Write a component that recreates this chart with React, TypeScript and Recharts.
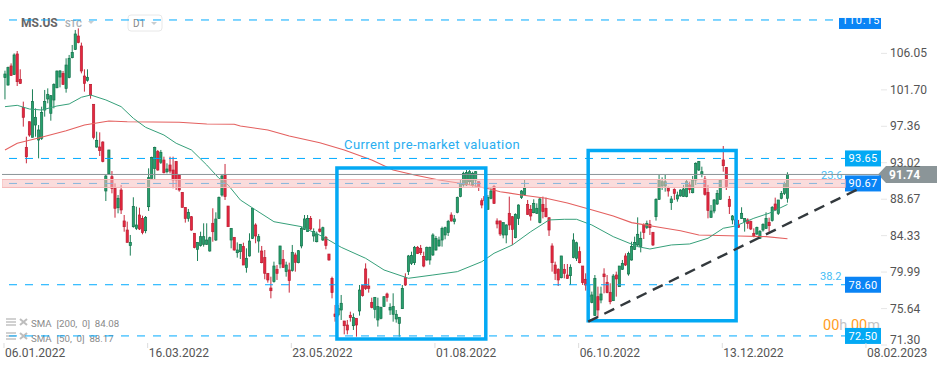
import { ComposedChart, Bar, Line, XAxis, YAxis, ReferenceLine, ReferenceArea, Customized } from 'recharts';

const open = [
  103.28, 102.40, 104.67, 103.67, 106.10, 103.08, 99.74, 94.97, 98.03, 96.17,
  97.63, 95.85, 96.05, 99.42, 100.73, 99.03, 100.61, 102.08, 103.35, 103.79,
  102.00, 103.28, 105.66, 106.65, 108.24, 107.05, 103.47, 102.96, 102.48, 100.10,
  95.01, 95.01, 95.61, 89.77, 91.80, 91.48, 90.09, 87.78, 89.89, 86.20,
  85.12, 83.26, 85.52, 85.32, 86.91, 86.51, 85.04, 87.90, 91.28, 92.47,
  94.46, 93.19, 93.46, 92.07, 92.87, 92.27, 93.27, 91.68, 89.61, 87.82,
  86.51, 86.71, 84.73, 82.82, 83.26, 83.42, 83.42, 82.62, 85.92, 83.93,
  86.51, 89.29, 91.68, 87.98, 83.93, 84.25, 82.42, 82.54, 83.14, 80.64,
  82.03, 84.13, 85.72, 83.81, 82.62, 81.83, 79.96, 78.21, 78.97, 80.44,
  81.07, 81.63, 80.16, 80.36, 80.28, 82.15, 81.23, 83.22, 85.20, 84.93,
  86.51, 84.41, 83.73, 85.24, 83.93, 84.25, 82.26, 79.36, 75.11, 75.00,
  75.59, 74.28, 73.80, 74.96, 73.72, 74.60, 75.47, 78.49, 80.48, 78.45,
  76.50, 75.67, 74.40, 74.60, 75.99, 77.50, 75.59, 75.08, 74.52, 74.00,
  75.75, 79.44, 80.16, 81.15, 81.23, 83.06, 82.94, 81.95, 81.55, 81.55,
  82.15, 82.74, 83.22, 83.93, 84.53, 84.81, 86.91, 86.12, 87.23, 89.10,
  90.49, 90.49, 90.88, 90.49, 91.08, 90.88, 88.62, 89.10, 87.59, 88.90,
  90.29, 86.20, 86.20, 84.53, 84.53, 87.11, 86.71, 84.21, 86.51, 88.98,
  89.37, 88.18, 87.59, 87.19, 87.11, 86.00, 88.18, 87.71, 86.59, 83.22,
  80.95, 80.44, 79.44, 80.44, 79.76, 79.68, 81.83, 81.75, 82.54, 80.83,
  79.25, 77.18, 76.47, 74.92, 77.18, 76.78, 79.88, 78.89, 77.70, 76.70,
  79.76, 78.37, 80.44, 82.03, 79.88, 81.55, 82.82, 83.34, 83.14, 85.72,
  85.44, 85.80, 84.85, 86.71, 88.78, 90.37, 90.37, 90.09, 88.38, 89.97,
  88.82, 89.18, 89.10, 89.10, 90.49, 89.57, 91.08, 92.27, 91.76, 91.20,
  89.61, 86.63, 87.39, 88.22, 88.78, 93.47, 92.59, 88.78, 86.32, 86.32,
  85.72, 86.51, 86.12, 86.32, 86.12, 84.73, 84.65, 84.13, 85.12, 85.32,
  86.04, 86.24, 88.22, 87.11, 88.90, 89.49, 88.90,
];

const close = [
  103.71, 104.47, 103.55, 105.98, 102.80, 102.60, 98.55, 93.86, 96.44, 100.42,
  98.55, 97.04, 99.14, 100.42, 101.29, 101.13, 102.48, 104.07, 104.07, 102.48,
  104.78, 105.58, 106.29, 108.48, 107.45, 104.07, 102.60, 103.32, 101.21, 96.17,
  95.81, 94.58, 93.27, 91.56, 94.66, 90.09, 87.71, 88.90, 87.51, 85.52,
  83.65, 83.65, 87.94, 85.72, 85.24, 84.81, 86.63, 91.36, 93.78, 94.97,
  92.27, 94.38, 91.95, 92.39, 92.15, 91.08, 91.08, 89.89, 87.82, 86.51,
  87.23, 85.12, 83.02, 83.65, 84.33, 84.33, 83.93, 84.21, 84.92, 86.43,
  89.02, 91.56, 89.10, 85.52, 85.32, 82.74, 82.74, 83.42, 80.95, 81.75,
  83.81, 87.71, 84.41, 84.33, 81.23, 79.96, 79.17, 77.89, 80.83, 79.96,
  83.22, 80.64, 80.95, 79.09, 82.46, 81.27, 82.66, 85.32, 86.44, 86.51,
  85.24, 84.93, 84.65, 84.93, 85.40, 83.26, 81.55, 77.66, 74.80, 75.79,
  76.39, 73.72, 73.21, 74.68, 74.68, 73.80, 77.97, 77.30, 78.17, 78.17,
  75.87, 77.10, 75.99, 75.87, 77.18, 77.10, 75.91, 75.99, 75.08, 74.72,
  78.17, 78.57, 82.03, 82.07, 83.06, 82.34, 82.42, 80.83, 83.06, 83.06,
  84.53, 84.13, 83.93, 85.32, 85.40, 86.12, 86.20, 86.44, 88.98, 90.68,
  91.88, 91.96, 92.07, 91.88, 92.07, 90.29, 88.10, 88.62, 88.98, 89.77,
  88.30, 85.84, 84.65, 86.00, 85.72, 85.72, 85.20, 86.99, 88.10, 89.77,
  90.09, 86.99, 86.79, 88.30, 87.71, 88.82, 87.31, 86.71, 85.12, 81.23,
  79.96, 79.17, 82.03, 79.96, 79.36, 80.68, 83.93, 83.61, 81.23, 78.85,
  78.57, 78.57, 77.38, 79.36, 75.59, 77.50, 79.56, 77.66, 76.58, 79.64,
  79.29, 80.83, 81.15, 80.95, 82.34, 83.14, 83.65, 84.61, 84.13, 84.81,
  85.92, 85.40, 83.34, 88.78, 91.08, 90.88, 90.88, 89.77, 88.82, 89.49,
  89.29, 89.89, 90.01, 90.88, 89.97, 91.08, 93.07, 93.27, 92.07, 89.37,
  87.43, 87.39, 88.70, 89.49, 91.08, 92.79, 90.29, 87.91, 86.79, 85.72,
  85.44, 87.11, 86.51, 85.92, 85.24, 84.41, 85.44, 84.93, 85.80, 86.51,
  85.64, 87.79, 87.51, 88.70, 89.49, 90.68, 91.74,
];

const high = [
  104.11, 104.59, 104.98, 106.17, 106.45, 104.27, 100.42, 96.24, 98.03, 101.89,
  99.62, 97.63, 99.82, 101.81, 102.00, 101.21, 102.60, 104.11, 104.19, 104.07,
  105.58, 105.98, 107.17, 108.96, 109.15, 107.45, 104.27, 104.27, 102.48, 100.10,
  96.84, 96.76, 95.69, 91.68, 94.66, 92.15, 90.68, 89.29, 90.49, 86.91,
  86.12, 84.53, 89.02, 87.90, 87.78, 86.83, 86.79, 92.47, 93.86, 95.05,
  94.66, 94.66, 93.86, 93.07, 93.86, 93.86, 93.35, 91.68, 89.61, 87.82,
  87.63, 86.79, 84.73, 83.65, 84.92, 85.92, 85.92, 84.33, 87.71, 87.23,
  89.10, 91.68, 92.99, 87.98, 85.32, 84.25, 83.65, 83.42, 83.61, 82.94,
  84.73, 87.71, 85.92, 84.65, 83.22, 82.74, 79.96, 79.56, 81.35, 80.95,
  83.22, 82.74, 81.35, 81.23, 83.34, 82.42, 82.74, 85.52, 86.91, 86.91,
  86.79, 85.32, 84.93, 86.40, 85.52, 84.41, 82.26, 79.56, 76.19, 76.19,
  77.38, 74.28, 74.40, 75.39, 75.19, 74.60, 78.57, 78.57, 81.15, 79.36,
  77.06, 77.10, 77.06, 75.99, 77.18, 77.66, 76.39, 77.58, 75.59, 74.72,
  78.57, 79.96, 82.15, 82.54, 83.22, 83.22, 83.34, 82.54, 83.14, 83.14,
  84.73, 84.41, 84.33, 85.52, 85.52, 86.32, 87.23, 86.91, 89.10, 91.08,
  92.07, 92.27, 92.27, 92.07, 92.15, 90.88, 88.90, 89.49, 89.29, 90.09,
  90.49, 86.51, 86.24, 86.00, 85.80, 89.10, 86.79, 87.11, 88.18, 89.89,
  91.08, 88.70, 88.10, 88.78, 88.30, 88.98, 89.10, 88.98, 86.59, 83.54,
  81.35, 80.56, 82.03, 81.07, 81.07, 81.03, 84.73, 83.73, 83.14, 80.83,
  79.96, 78.97, 77.78, 79.76, 78.37, 78.37, 80.56, 79.76, 78.77, 79.88,
  80.16, 80.83, 81.55, 82.34, 82.54, 83.73, 84.33, 86.63, 84.93, 85.92,
  86.24, 86.32, 84.85, 88.90, 91.68, 91.40, 91.68, 90.29, 89.18, 90.09,
  89.69, 89.97, 90.49, 91.16, 90.88, 91.56, 93.19, 93.35, 92.67, 91.56,
  90.49, 88.10, 88.82, 89.89, 91.20, 95.13, 92.59, 89.18, 86.91, 86.51,
  86.32, 87.83, 86.51, 86.51, 86.24, 85.32, 85.52, 85.12, 85.92, 87.23,
  86.59, 87.98, 88.98, 88.70, 89.77, 90.88, 92.00,
];

const low = [
  100.69, 102.32, 103.47, 103.59, 102.28, 102.52, 97.44, 93.07, 96.24, 96.17,
  96.24, 93.66, 95.85, 98.63, 100.22, 98.15, 99.62, 102.00, 102.12, 102.40,
  101.49, 103.20, 105.58, 106.57, 107.37, 103.79, 101.61, 102.80, 100.77, 95.93,
  94.93, 93.94, 93.19, 88.58, 91.68, 89.49, 86.59, 87.11, 87.03, 84.92,
  83.65, 82.07, 85.40, 85.12, 85.12, 84.61, 84.73, 87.39, 91.28, 91.08,
  92.19, 92.99, 91.87, 91.87, 91.87, 90.09, 89.89, 89.69, 87.82, 86.00,
  86.12, 85.04, 82.94, 81.43, 83.14, 83.14, 83.34, 82.54, 83.73, 83.81,
  86.43, 89.10, 88.70, 85.52, 82.94, 82.66, 81.83, 81.67, 80.95, 80.04,
  81.95, 84.05, 83.54, 82.42, 81.15, 79.25, 78.85, 76.98, 78.85, 79.17,
  80.56, 80.64, 79.56, 77.66, 80.16, 80.16, 81.15, 82.94, 85.12, 84.93,
  85.12, 83.73, 83.65, 84.81, 83.81, 82.82, 81.47, 76.98, 74.20, 74.80,
  74.40, 72.69, 72.69, 74.20, 73.21, 72.41, 74.92, 77.18, 77.97, 77.66,
  75.79, 74.60, 73.61, 74.48, 75.99, 76.58, 75.00, 74.20, 74.08, 72.41,
  75.71, 78.45, 79.76, 80.95, 80.95, 82.26, 82.15, 80.68, 81.47, 80.99,
  82.03, 82.66, 83.14, 83.14, 84.01, 84.41, 86.12, 85.80, 87.11, 89.02,
  90.29, 90.37, 90.49, 90.29, 90.29, 89.77, 87.71, 88.30, 87.51, 88.78,
  88.22, 85.32, 84.41, 84.13, 83.54, 85.12, 83.34, 84.13, 85.72, 88.82,
  89.29, 86.91, 86.24, 87.11, 87.03, 85.92, 86.51, 86.63, 84.41, 80.16,
  79.17, 78.45, 79.36, 79.36, 79.29, 78.57, 81.75, 81.43, 81.15, 78.57,
  77.90, 76.78, 76.39, 74.88, 74.72, 76.39, 77.58, 77.58, 76.27, 76.66,
  77.18, 78.37, 80.36, 80.83, 79.68, 81.47, 82.74, 83.14, 82.46, 84.05,
  85.24, 84.53, 83.22, 86.24, 88.70, 89.89, 89.69, 89.10, 87.51, 88.70,
  88.50, 89.10, 89.10, 89.02, 89.49, 89.49, 90.49, 92.15, 91.40, 89.22,
  86.51, 86.59, 87.11, 88.10, 88.70, 92.07, 89.89, 87.03, 85.80, 85.52,
  85.40, 86.44, 84.93, 85.28, 85.12, 84.25, 84.53, 84.05, 84.93, 85.24,
  84.93, 86.12, 87.43, 86.91, 88.78, 89.29, 88.38,
];

// moving averages, read at the candle numbers listed next to them
const sma200Index = [0, 4, 11, 20, 26, 34, 40, 57, 66, 75, 77, 86, 93, 103, 111, 120, 127, 134, 142, 151, 159, 162, 169, 177, 184, 191, 199, 205, 214, 221, 227, 240, 249, 256];
const sma200Values = [94.66, 95.46, 96.09, 96.96, 97.64, 98.11, 98.03, 97.96, 97.76, 97.72, 97.52, 97.04, 96.33, 95.53, 94.66, 93.47, 92.27, 91.68, 91.08, 90.57, 89.97, 89.69, 89.30, 88.90, 88.34, 87.63, 86.79, 86.00, 85.45, 85.04, 84.53, 84.41, 84.33, 84.08];
const sma50Index = [0, 4, 8, 12, 17, 21, 25, 28, 33, 38, 42, 46, 52, 56, 61, 66, 70, 73, 77, 82, 88, 97, 104, 110, 118, 124, 132, 140, 148, 156, 160, 166, 172, 178, 183, 187, 192, 199, 207, 211, 218, 224, 230, 235, 239, 245, 250, 256];
const sma50Values = [99.82, 99.98, 99.54, 99.42, 99.90, 100.14, 100.94, 101.21, 100.62, 99.82, 98.43, 97.36, 96.44, 95.46, 94.66, 92.87, 91.29, 90.49, 88.70, 87.51, 86.11, 85.52, 84.33, 83.06, 81.75, 80.36, 79.37, 79.76, 80.16, 81.35, 82.35, 83.34, 84.92, 86.32, 86.40, 86.40, 85.72, 84.33, 83.14, 82.86, 83.34, 83.46, 84.14, 85.33, 85.60, 86.52, 87.12, 88.17];

const priceTicks = [106.05, 101.7, 97.36, 93.02, 88.67, 84.33, 79.99, 75.64, 71.3];
const dateTicks = [0, 47, 94, 141, 188, 235, 282];
const dateLabels = ['06.01.2022', '16.03.2022', '23.05.2022', '01.08.2022', '06.10.2022', '13.12.2022', '08.02.2023'];

const lastPrice = 91.74;
const levels = [110.15, 93.65, 90.67, 78.6, 72.5];
const levelColors = ['#0a84f5', '#03a9f4', '#0a84f5', '#0a84f5', '#03a9f4'];

const rows = open.map((o, i) => ({
  i,
  open: o,
  high: high[i],
  low: low[i],
  close: close[i],
  sma200: sma200Index.includes(i) ? sma200Values[sma200Index.indexOf(i)] : null,
  sma50: sma50Index.includes(i) ? sma50Values[sma50Index.indexOf(i)] : null,
}));

const font = 'Roboto, sans-serif';
const boxBlue = '#03a9f4';

function Candle(props: any) {
  const { x, y, width, height, payload } = props;
  const cx = x + width / 2;
  const top = Math.min(y, y + height);
  const perUnit = Math.abs(height) / (payload.high - payload.low);
  const yOf = (v: number) => top + (payload.high - v) * perUnit;
  const up = payload.close >= payload.open;
  const bodyTop = yOf(Math.max(payload.open, payload.close));
  const bodyBottom = yOf(Math.min(payload.open, payload.close));
  return (
    <g>
      <line x1={cx} x2={cx} y1={top} y2={top + Math.abs(height)} stroke={up ? '#1c7f57' : '#c9283c'} strokeWidth={1} />
      <rect
        x={cx - 1.1}
        y={bodyTop}
        width={2.2}
        height={Math.max(bodyBottom - bodyTop, 1)}
        fill={up ? '#27a06d' : '#e5273f'}
        stroke={up ? '#127049' : '#b81f33'}
        strokeWidth={0.7}
      />
    </g>
  );
}

function PriceTick({ x, y, payload }: any) {
  const last = payload.value === 71.3;
  // recharts hands over x after its own tick gap, so step back to the plot edge
  const edge = x - 8;
  return (
    <g>
      <line x1={edge} x2={edge + 6} y1={y - 1} y2={y - 1} stroke="#e6e6e6" />
      <text x={edge + 9} y={last ? y - 2 : y + 3} fontFamily={font} fontSize={12} fill="#555">
        {payload.value.toFixed(2)}
      </text>
    </g>
  );
}

function DateTick({ x, y, payload }: any) {
  return (
    <g>
      <line x1={x - 1} x2={x - 1} y1={y - 11} y2={y - 6} stroke="#dddddd" />
      <text x={x} y={y + 3} fontFamily={font} fontSize={12} fill="#555">
        {dateLabels[dateTicks.indexOf(payload.value)]}
      </text>
    </g>
  );
}

function LevelLabel({ viewBox, value, color }: any) {
  const wide = value > 100;
  const bx = wide ? 839 : 845;
  const top = viewBox.y - (wide ? 2 : 8);
  const h = wide ? 11 : 16;
  const clipId = `level-${value}`;
  return (
    <g>
      <clipPath id={clipId}>
        <rect x={bx} y={top} width={881 - bx} height={h} />
      </clipPath>
      <rect x={bx} y={top} width={881 - bx} height={h} fill={color} />
      <text
        x={wide ? 861 : 863}
        y={viewBox.y + 4}
        textAnchor="middle"
        fontFamily={font}
        fontSize={11}
        letterSpacing={wide ? 0.8 : 0.3}
        fill="#fff"
        clipPath={`url(#${clipId})`}
      >
        {value.toFixed(2)}
      </text>
    </g>
  );
}

function LastPriceFlag({ viewBox }: any) {
  const y = viewBox.y;
  return (
    <g>
      <polygon points={`${878},${y} ${886},${y - 8.5} ${937},${y - 8.5} ${937},${y + 8.5} ${886},${y + 8.5}`} fill="#8b9598" />
      <text x={889} y={y + 5} fontFamily={font} fontSize={12} fontWeight={700} fill="#fff">
        {lastPrice.toFixed(2)}
      </text>
    </g>
  );
}

function Annotations() {
  return (
    <g fontFamily={font}>
      <text x={21} y={27} fontSize={12} fontWeight={700} fill="#666">MS.US</text>
      <text x={65} y={27} fontSize={9} fontWeight={700} fill="#aab0b5">STC</text>
      <polygon points="88,21 94,21 91,24" fill="#c9cdd0" />
      <rect x={128} y={15} width={34} height={16} rx={3} fill="#fff" stroke="#e8e8e8" />
      <text x={133} y={27} fontSize={10} fill="#888">D1</text>
      <polygon points="151,22 157,22 154,25" fill="#c9cdd0" />

      <text x={344} y={149} fontSize={13} letterSpacing={0.42} fill="#29aef0">Current pre-market valuation</text>
      <text x={821} y={179} fontSize={11} fill="#45bdf5">23.6</text>
      <text x={820} y={280} fontSize={11} fill="#45bdf5">38.2</text>

      <text x={823} y={330} fontSize={14.5}>
        <tspan fill="#ff9d1e">00</tspan>
        <tspan fill="#c4c4c4">h </tspan>
        <tspan fill="#ff9d1e">00</tspan>
        <tspan fill="#c4c4c4">m</tspan>
      </text>

      {[319, 333].map((y) => (
        <g key={y} stroke="#bdbdbd" strokeWidth={1.4}>
          <line x1={6} x2={16} y1={y} y2={y} />
          <line x1={6} x2={16} y1={y + 3} y2={y + 3} />
          <line x1={6} x2={16} y1={y + 6} y2={y + 6} />
          <line x1={20} x2={27} y1={y} y2={y + 6} strokeWidth={2} />
          <line x1={27} x2={20} y1={y} y2={y + 6} strokeWidth={2} />
        </g>
      ))}
      <text x={31} y={327} fontSize={9.7} fill="#8a8a8a" xmlSpace="preserve">SMA  [200,  0]  84.08</text>
      <text x={31} y={342} fontSize={9.7} fill="#8a8a8a" xmlSpace="preserve">SMA  [50,  0]  88.17</text>
    </g>
  );
}

export default function App() {
  return (
    <div style={{ position: 'absolute', left: 0, top: 0, width: 949, height: 370, background: '#fff' }}>
      <ComposedChart width={949} height={370} data={rows} margin={{ top: 0, right: 0, bottom: 0, left: 2 }}>
        <XAxis
          dataKey="i"
          type="number"
          domain={[-0.98, 286.6]}
          ticks={dateTicks}
          interval={0}
          allowDataOverflow
          axisLine={false}
          tickLine={false}
          height={24}
          tick={<DateTick />}
        />
        <YAxis
          orientation="right"
          width={68}
          domain={[71.3, 112.53]}
          ticks={priceTicks}
          interval={0}
          allowDataOverflow
          axisLine={false}
          tickLine={false}
          tick={<PriceTick />}
        />
        <Bar dataKey={(r: any) => [r.low, r.high]} barSize={3} shape={<Candle />} isAnimationActive={false} />
        <Line dataKey="sma200" stroke="#e4605f" strokeWidth={1.1} dot={false} connectNulls isAnimationActive={false} />
        <Line dataKey="sma50" stroke="#36a07a" strokeWidth={1} dot={false} connectNulls isAnimationActive={false} />

        <ReferenceLine y={lastPrice} stroke="#8b9598" zIndex={460} label={<LastPriceFlag />} />
        {levels.map((v, n) => (
          <ReferenceLine
            key={v}
            y={v}
            stroke="#00aaff"
            strokeDasharray="8 8"
            zIndex={460}
            label={<LevelLabel value={v} color={levelColors[n]} />}
          />
        ))}
        {/* the band sits over candles and dashes, they show through it */}
        <ReferenceArea x1={-0.98} x2={274.9} y1={91.14} y2={90.19} fill="#f6bfbf" fillOpacity={0.55} stroke="#f6b9b9" ifOverflow="hidden" zIndex={465} />
        <ReferenceArea x1={108.6} x2={157.3} y1={92.51} y2={72.14} fill="none" stroke={boxBlue} strokeWidth={3.5} zIndex={470} />
        <ReferenceArea x1={190.8} x2={239.2} y1={94.6} y2={74.32} fill="none" stroke={boxBlue} strokeWidth={3.5} zIndex={470} />
        <ReferenceLine
          segment={[{ x: 190.8, y: 74.2 }, { x: 279.1, y: 89.99 }]}
          stroke="#33393d"
          strokeWidth={2.4}
          strokeDasharray="11 7"
          zIndex={480}
        />
        <Customized component={Annotations} />
      </ComposedChart>
    </div>
  );
}
